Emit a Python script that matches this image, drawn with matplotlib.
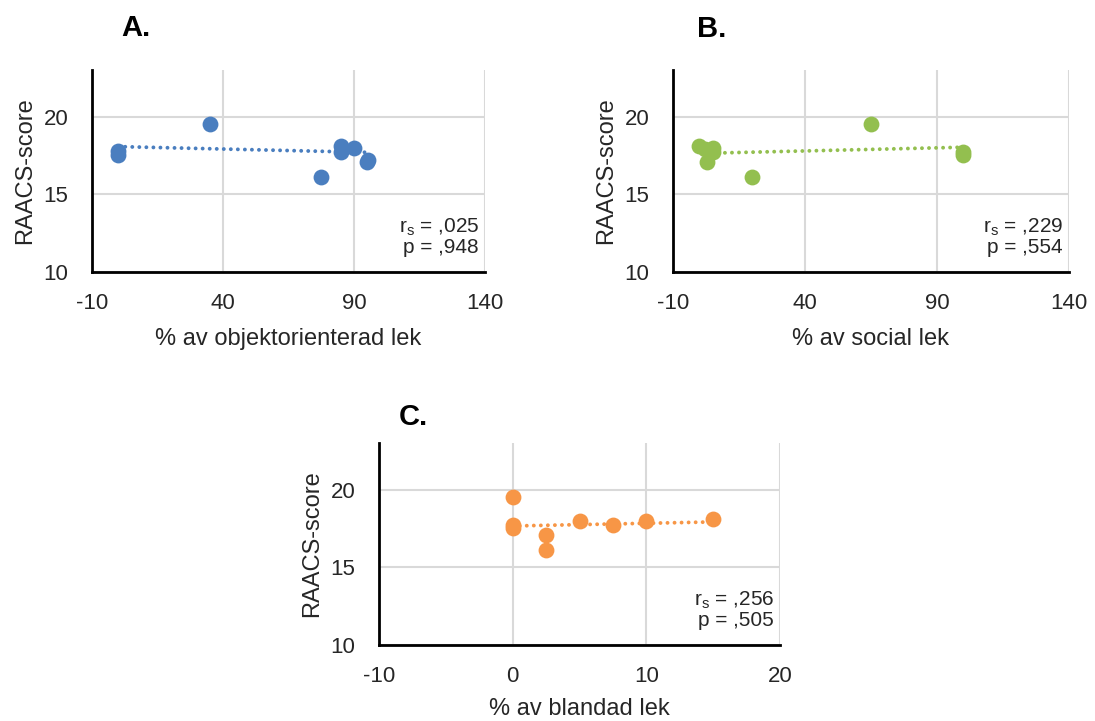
import matplotlib
matplotlib.use("Agg")
import matplotlib.pyplot as plt
import numpy as np

plt.rcParams['font.family'] = ['Liberation Sans', 'DejaVu Sans']
plt.rcParams['mathtext.default'] = 'regular'
plt.rcParams['axes.unicode_minus'] = False

# ---- data ----
a_x = [95.3, 0, 0, 35, 77.5, 85, 85, 90, 95]
a_y = [17.2, 17.5, 17.8, 19.5, 16.1, 18.1, 17.75, 18.0, 17.05]
a_trend_x = [0, 95]
a_trend_y = [18.07, 17.70]

b_x = [2, 5, 0, 5, 3, 20, 65, 100, 100]
b_y = [17.9, 17.75, 18.1, 18.0, 17.05, 16.1, 19.5, 17.75, 17.5]
b_trend_x = [7, 100]
b_trend_y = [17.66, 18.03]

c_x = [0, 0, 0, 2.5, 2.5, 5, 7.5, 10, 15]
c_y = [19.5, 17.75, 17.5, 17.05, 16.1, 18.0, 17.75, 17.95, 18.1]
c_trend_x = [0, 15]
c_trend_y = [17.66, 17.92]

xticks_ab = [-10, 40, 90, 140]
xticks_c = [-10, 0, 10, 20]
yticks = [10, 15, 20]

panels = [
    dict(rect=(92, 70, 393, 202), x=a_x, y=a_y, tx=a_trend_x, ty=a_trend_y,
         color='#4a7ebf', xticks=xticks_ab, xlabel='% av objektorienterad lek',
         stat=('r$_s$ = ,025', 'p = ,948'), title='A.', title_xy=(136, 28), lp=10),
    dict(rect=(673, 70, 396, 202), x=b_x, y=b_y, tx=b_trend_x, ty=b_trend_y,
         color='#93bf4f', xticks=xticks_ab, xlabel='% av social lek',
         stat=('r$_s$ = ,229', 'p = ,554'), title='B.', title_xy=(712, 29), lp=10),
    dict(rect=(379, 443, 401, 202), x=c_x, y=c_y, tx=c_trend_x, ty=c_trend_y,
         color='#f79646', xticks=xticks_c, xlabel='% av blandad lek',
         stat=('r$_s$ = ,256', 'p = ,505'), title='C.', title_xy=(413, 417), lp=8),
]

W, H = 1095, 721
fig = plt.figure(figsize=(W / 100, H / 100), dpi=100)
fig.patch.set_facecolor('white')

TXT = '#262626'
for p in panels:
    l, t, w, h = p['rect']
    ax = fig.add_axes([l / W, (H - t - h) / H, w / W, h / H])
    ax.set_xlim(p['xticks'][0], p['xticks'][-1])
    ax.set_ylim(10, 23)
    ax.set_xticks(p['xticks'])
    ax.set_yticks(yticks)
    ax.grid(True, color='#d9d9d9', linewidth=1.5)
    ax.set_axisbelow(True)
    for s in ['top', 'right']:
        ax.spines[s].set_visible(False)
    for s in ['left', 'bottom']:
        ax.spines[s].set_linewidth(2)
        ax.spines[s].set_color('black')
    ax.tick_params(length=0, labelsize=16, colors=TXT)
    ax.tick_params(axis='x', pad=15)
    ax.tick_params(axis='y', pad=17)
    ax.plot(p['tx'], p['ty'], linestyle=(0, (0.01, 1.8)), color=p['color'],
            linewidth=2.8, dash_capstyle='round', zorder=2)
    ax.scatter(p['x'], p['y'], s=130, color=p['color'], linewidths=0, zorder=3,
               clip_on=False)
    ax.set_xlabel(p['xlabel'], fontsize=17, color=TXT, labelpad=p['lp'])
    ax.set_ylabel('RAACS-score', fontsize=17, color=TXT, labelpad=5)
    ax.text(0.985, 0.223, p['stat'][0], transform=ax.transAxes, ha='right',
            va='center', fontsize=15, color=TXT)
    ax.text(0.985, 0.119, p['stat'][1], transform=ax.transAxes, ha='right',
            va='center', fontsize=15, color=TXT)
    fig.text(p['title_xy'][0] / W, 1 - p['title_xy'][1] / H, p['title'],
             fontsize=21, fontweight='bold', ha='center', va='center')

fig.savefig('out.png', dpi=100)
